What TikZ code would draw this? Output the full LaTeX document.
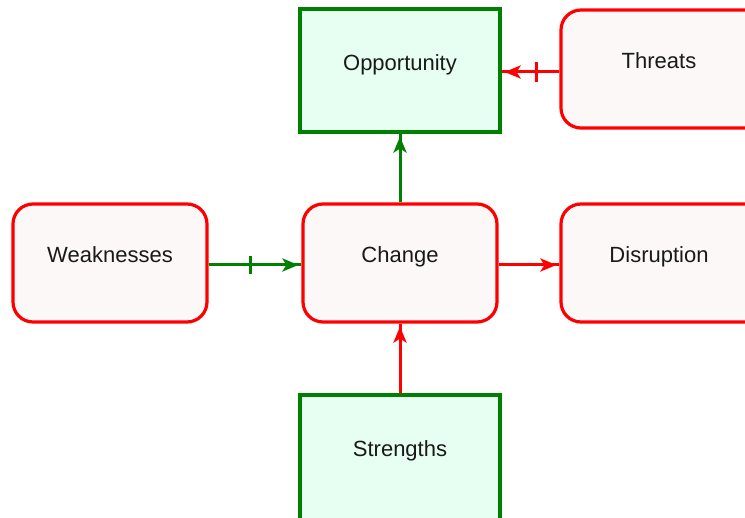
\documentclass[tikz,border=0pt]{standalone}
\usepackage{fontspec}
\setmainfont{Liberation Sans}
\usetikzlibrary{arrows.meta}
\definecolor{rd}{RGB}{255,0,0}
\definecolor{gr}{RGB}{0,128,0}
\definecolor{pinkfill}{RGB}{253,248,248}
\definecolor{mintfill}{RGB}{230,255,242}
\begin{document}
\begin{tikzpicture}[x=1pt,y=-1pt,
 redbox/.style={draw=rd, fill=pinkfill, line width=3.2pt, rounded corners=20pt, minimum width=194pt, minimum height=118pt, inner sep=0pt},
 widebox/.style={redbox, minimum width=214pt},
 greenbox/.style={draw=gr, fill=mintfill, line width=3.2pt, minimum width=200pt, minimum height=123pt, inner sep=0pt},
 lbl/.style={font=\fontsize{22}{26}\selectfont, text=black!90, anchor=base, inner sep=0pt},
 conn/.style={line width=3pt, postaction={draw, -{Stealth[length=16pt,width=13pt,inset=4pt]}, shorten >=3pt}},
 tickmark/.style={line width=3pt}
]
\useasboundingbox (0,0) rectangle (745,518);
\fill[white] (0,0) rectangle (745,518);
\clip (0,0) rectangle (745,518);

\node[greenbox] (opp) at (400,70.5) {};
\node[widebox] (th) at (668,69) {};
\node[redbox] (wk) at (110,263) {};
\node[redbox] (ch) at (400,263) {};
\node[widebox] (dis) at (668,263) {};
\node[greenbox, minimum height=133pt] (st) at (400,461.5) {};

\node[lbl] (oppt) at (opp.center) {Opportunity};
\node[lbl] (tht) at ([xshift=-9pt]th.center) {Threats};
\node[lbl] (wkt) at (wk.center) {Weaknesses};
\node[lbl] (cht) at (ch.center) {Change};
\node[lbl] (dist) at ([xshift=-9pt]dis.center) {Disruption};
\node[lbl] (stt) at ([yshift=5pt]st.center) {Strengths};

% connectors
\draw[conn, rd] ([yshift=-3pt]th.west) -- ([yshift=-1.5pt]opp.east) coordinate[pos=0.4] (t2);
\draw[tickmark, rd] ([yshift=10pt]t2) -- ([yshift=-10pt]t2);

\draw[conn, gr] ([yshift=-2pt]wk.east) -- ([yshift=-2pt]ch.west) coordinate[pos=0.45] (t1);
\draw[tickmark, gr] ([yshift=9pt]t1) -- ([yshift=-9pt]t1);

\draw[conn, rd] ([yshift=-2pt]ch.east) -- ([yshift=-2pt]dis.west);
\draw[conn, gr] (ch.north) -- (opp.south);
\draw[conn, rd] (st.north) -- (ch.south);
\end{tikzpicture}
\end{document}
